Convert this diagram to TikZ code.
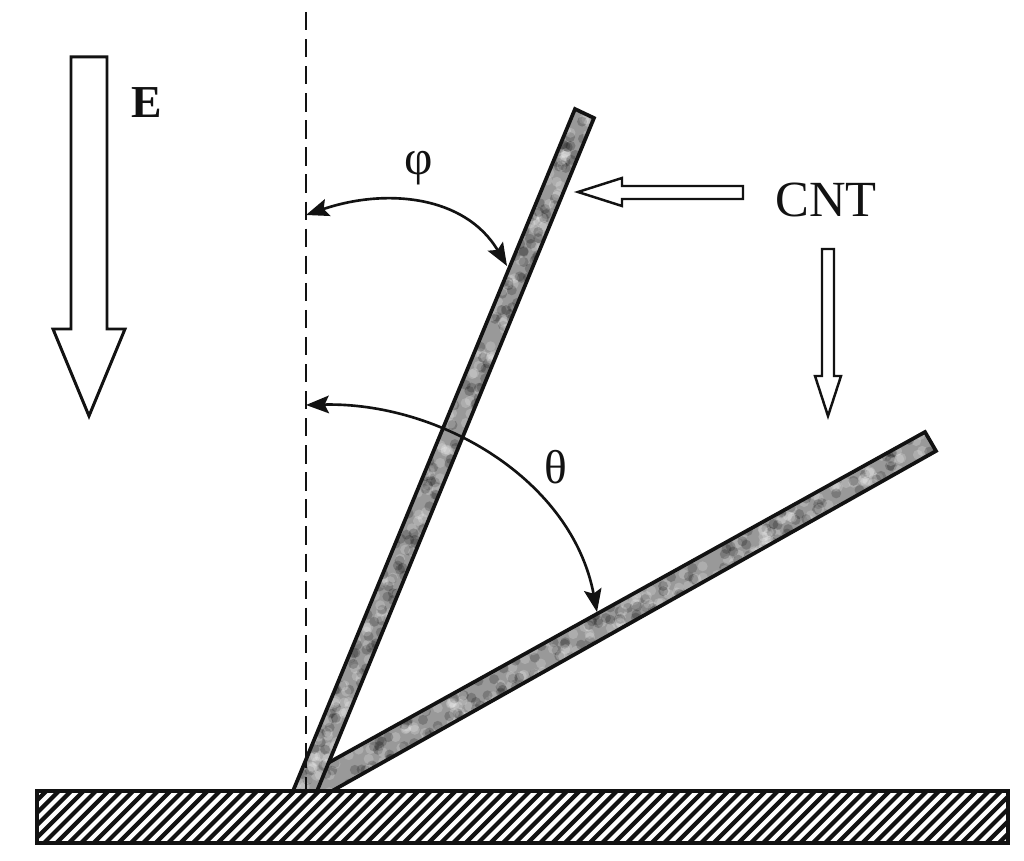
\documentclass[tikz,border=0pt]{standalone}
\usepackage{fontspec}
\setmainfont{Liberation Serif}
\usetikzlibrary{arrows.meta}
\definecolor{rodbase}{gray}{0.6}
\definecolor{inkc}{gray}{0.07}
\tikzset{
  outl/.style={draw=inkc,line width=0.85pt,fill=white,line join=miter},
  rodedge/.style={draw=inkc,line width=1.05pt},
  arcarrow/.style={draw=inkc,line width=0.75pt,{Stealth[length=6.5pt,width=5pt,inset=1.2pt]}-{Stealth[length=6.5pt,width=5pt,inset=1.2pt]}},
  dashaxis/.style={draw=inkc,line width=0.8pt,dash pattern=on 5.2pt off 2.5pt},
  lbl/.style={text=inkc,inner sep=0pt},
}
\begin{document}
\begin{tikzpicture}[x=0.01cm,y=-0.01cm]
\useasboundingbox (0,0) rectangle (1024,861);
\fill[white] (0,0) rectangle (1024,861);
% axis
\path (306,12) coordinate (axistop) (306,790) coordinate (axisbot);
\draw[dashaxis] (axistop) -- (axisbot);
% rods
\coordinate (r1a) at (575,109); \coordinate (r1b) at (594,118);
\coordinate (r1c) at (317,791); \coordinate (r1d) at (293,791);
\coordinate (r2a) at (925,432); \coordinate (r2b) at (936,451);
\coordinate (r2c) at (332,791); \coordinate (r2d) at (317,791);
\coordinate (r2e) at (328,763);
\pgfmathsetseed{4711}
\begin{scope}
  \clip (r2a) -- (r2b) -- (r2c) -- (r2d) -- (r2e) -- cycle;
  \fill[rodbase] (300,420) rectangle (950,800);
  \foreach \i in {1,...,300}{
    \pgfmathsetmacro{\t}{rnd}\pgfmathsetmacro{\u}{rnd}\pgfmathsetmacro{\c}{rnd}
    \pgfmathsetmacro{\xx}{320+\t*615+\u*12-6}\pgfmathsetmacro{\yy}{785-\t*345+\u*24-12}
    \ifdim\c pt<0.5pt
      \fill[black,opacity=0.2] (\xx,\yy) circle[radius=0.05cm];
    \else
      \fill[white,opacity=0.2] (\xx,\yy) circle[radius=0.05cm];
    \fi
  }
\end{scope}
\begin{scope}
  \clip (r1a) -- (r1b) -- (r1c) -- (r1d) -- cycle;
  \fill[rodbase] (280,100) rectangle (600,800);
  \foreach \i in {1,...,300}{
    \pgfmathsetmacro{\t}{rnd}\pgfmathsetmacro{\u}{rnd}\pgfmathsetmacro{\c}{rnd}
    \pgfmathsetmacro{\xx}{305+\t*280+\u*24-12}\pgfmathsetmacro{\yy}{791-\t*678}
    \ifdim\c pt<0.5pt
      \fill[black,opacity=0.2] (\xx,\yy) circle[radius=0.05cm];
    \else
      \fill[white,opacity=0.2] (\xx,\yy) circle[radius=0.05cm];
    \fi
  }
\end{scope}
\draw[rodedge,line join=miter] (r1d) -- (r1a) -- (r1b) -- (r1c);
\draw[rodedge,line join=miter] (r2e) -- (r2a) -- (r2b) -- (r2c);
\draw[draw=inkc,line width=0.45pt,dash pattern=on 5.2pt off 2.5pt] (306,750) -- (axisbot);
% substrate
\coordinate (s1) at (37,791); \coordinate (s2) at (1008,843);
\begin{scope}
  \clip (s1) rectangle (s2);
  \foreach \k in {-6,...,80}{
    \draw[inkc,line width=1.2pt] ({37+\k*12.4},850) -- ({37+\k*12.4+65},785);
  }
\end{scope}
\draw[draw=inkc,line width=1.05pt] (s1) rectangle (s2);
% block arrows
\draw[outl] (71,57) -- (107,57) -- (107,329) -- (125,329) -- (89,416) -- (53,329) -- (71,329) -- cycle;
\draw[outl,line width=0.7pt] (743,186) -- (622,186) -- (622,178) -- (578,192) -- (622,206) -- (622,199) -- (743,199) -- cycle;
\draw[outl,line width=0.7pt] (822,249) -- (834,249) -- (834,376) -- (841,376) -- (828,416) -- (815,376) -- (822,376) -- cycle;
% arcs
\coordinate (p1) at (306,215); \coordinate (p2) at (507,266);
\coordinate (t1) at (306,405); \coordinate (t2) at (597,612);
\draw[arcarrow] (p1) .. controls (385,188) and (465,195) .. (p2);
\draw[arcarrow] (t1) .. controls (440,402) and (572,480) .. (t2);
% labels
\node[lbl,font=\fontsize{13}{13}\selectfont\bfseries] (lE) at (147,103) {E};
\node[lbl,font=\fontsize{14}{14}\selectfont] (lphi) at (419,168) {φ};
\node[lbl,font=\fontsize{13.5}{13.5}\selectfont] (ltheta) at (556,467) {θ};
\node[lbl,font=\fontsize{14.4}{14.4}\selectfont] (lCNT) at (826,200) {CNT};
\end{tikzpicture}
\end{document}
